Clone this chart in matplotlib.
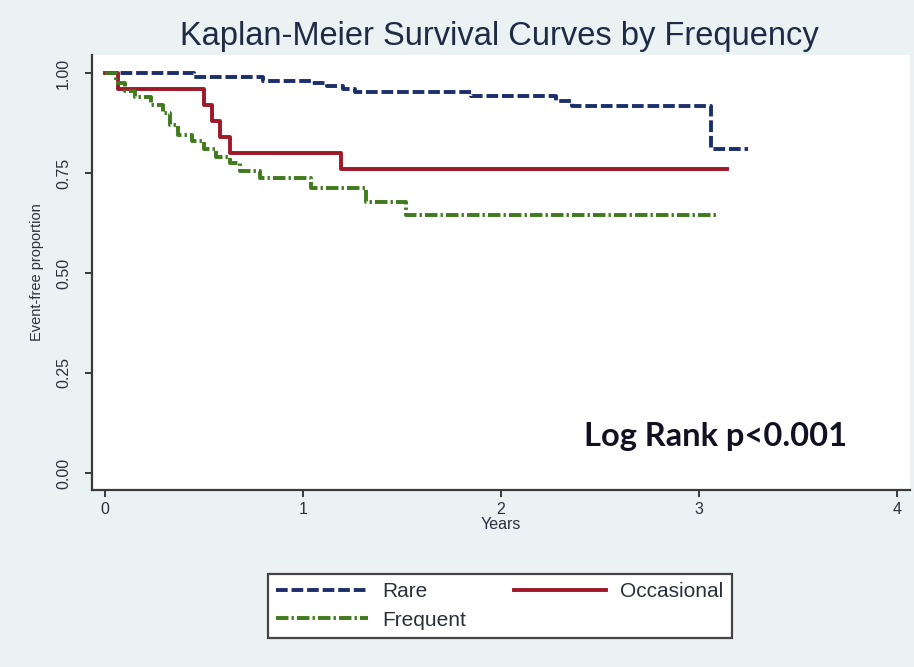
import matplotlib
matplotlib.use('Agg')
import matplotlib.pyplot as plt

# step times (years) and event-free proportion for each group
rare_t = [0, 0.45, 0.80, 1.04, 1.12, 1.20, 1.26, 1.85, 2.28, 2.36, 3.06, 3.25]
rare_s = [1.00, 0.99, 0.98, 0.975, 0.968, 0.96, 0.953, 0.943, 0.93, 0.918, 0.81, 0.81]

occ_t = [0, 0.065, 0.50, 0.54, 0.58, 0.63, 1.19, 3.14]
occ_s = [1.00, 0.96, 0.92, 0.88, 0.84, 0.80, 0.76, 0.76]

freq_t = [0, 0.055, 0.10, 0.15, 0.23, 0.29, 0.33, 0.37, 0.44, 0.50, 0.56, 0.63,
          0.68, 0.78, 1.04, 1.32, 1.52, 3.09]
freq_s = [1.00, 0.975, 0.955, 0.94, 0.92, 0.90, 0.87, 0.845, 0.83, 0.81, 0.79, 0.775,
          0.755, 0.737, 0.712, 0.678, 0.645, 0.645]

xticks = [0, 1, 2, 3, 4]
yticks = [0.00, 0.25, 0.50, 0.75, 1.00]

bg = '#eaf2f4'
txt = '#2b2f3a'

plt.rcParams['font.family'] = ['Liberation Sans', 'DejaVu Sans']

fig = plt.figure(figsize=(9.14, 6.67), dpi=100, facecolor=bg)
ax = fig.add_axes([0.1007, 0.2654, 0.8949, 0.6521])
ax.set_facecolor('white')

l_rare, = ax.step(rare_t, rare_s, where='post', color='#1b2f6b', lw=2.8,
                  linestyle=(0, (3.0, 1.0)), label='Rare')
l_occ, = ax.step(occ_t, occ_s, where='post', color='#a01828', lw=2.8,
                 label='Occasional')
l_freq, = ax.step(freq_t, freq_s, where='post', color='#3f7a1c', lw=2.8,
                  linestyle=(0, (3.2, 0.8, 0.6, 0.8)), label='Frequent')

ax.set_xlim(-0.066, 4.066)
ax.set_ylim(-0.0425, 1.045)
ax.set_xticks(xticks)
ax.set_xticklabels([str(x) for x in xticks])
ax.set_yticks(yticks)
ax.set_yticklabels(['%.2f' % y for y in yticks], rotation=90, va='center')

for s in ['top', 'right']:
    ax.spines[s].set_visible(False)
for s in ['left', 'bottom']:
    ax.spines[s].set_color('#3a3a3a')
    ax.spines[s].set_linewidth(1.6)
ax.tick_params(axis='both', colors='#3a3a3a', labelcolor=txt, labelsize=11.5,
               length=5, width=1.4, direction='out')
ax.tick_params(axis='y', pad=10)

ax.set_xlabel('Years', fontsize=11.5, color=txt, labelpad=0)
ax.set_ylabel('Event-free proportion', fontsize=10.5, color=txt, labelpad=9)
fig.suptitle('Kaplan-Meier Survival Curves by Frequency', x=0.546, y=0.968,
             fontsize=23.5, color='#1f2a44')

ax.text(2.42, 0.09, 'Log Rank p<0.001', fontsize=23.5, ha='left', va='center',
        fontweight='bold', family=['Lato', 'DejaVu Sans'], color='#111122')

leg = fig.legend(handles=[l_rare, l_freq, l_occ], ncol=2, loc='center',
                 bbox_to_anchor=(0.547, 0.0915), fancybox=False, frameon=True,
                 framealpha=1, facecolor='white',
                 fontsize=15, handlelength=4.4, handletextpad=0.7,
                 columnspacing=2.3, labelspacing=0.45, borderpad=0.4)
leg.get_frame().set_edgecolor('#444444')
leg.get_frame().set_linewidth(1.6)
for t in leg.get_texts():
    t.set_color(txt)

fig.savefig('out.png', dpi=100, facecolor=bg)
